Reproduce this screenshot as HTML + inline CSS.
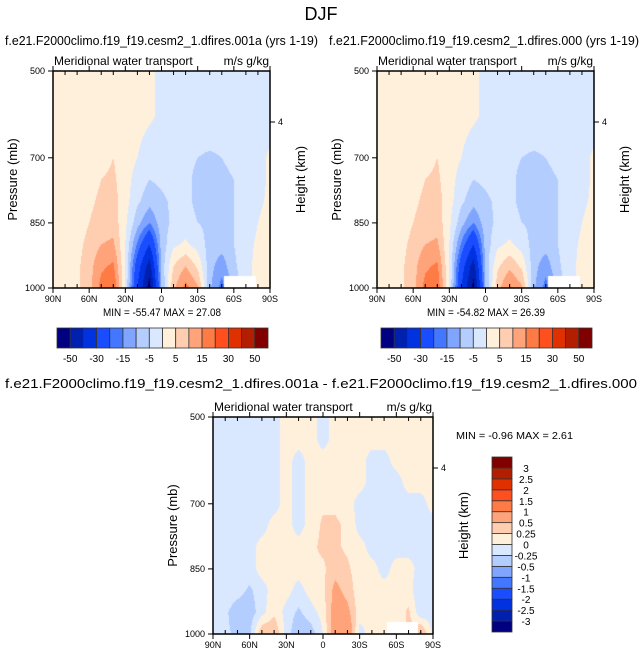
<!DOCTYPE html>
<html><head><meta charset="utf-8">
<style>
body{margin:0;background:#fff;width:643px;height:658px;overflow:hidden;font-family:"Liberation Sans",sans-serif;}
svg{position:absolute;left:0;top:0}
canvas{position:absolute}
</style></head>
<body>
<canvas id="c1"></canvas>
<canvas id="c2"></canvas>
<canvas id="c3"></canvas>
<svg id="s" width="643" height="658"></svg>
<script>
const lats=[90,80,70,60,50,40,30,20,10,0,-10,-20,-30,-40,-50,-60,-70,-80,-90];
const levels=[500,550,600,650,700,750,800,850,900,950,1000];
const latTicks=[90,60,30,0,-30,-60,-90];
const latTickLabels=["90N","60N","30N","0","30S","60S","90S"];
const pTicks=[500,700,850,1000];
const bounds1=[-50,-40,-30,-20,-15,-10,-5,0,5,10,15,20,30,40,50];
const cbLabels1=["-50","-30","-15","-5","5","15","30","50"];
const bounds3=[-3,-2.5,-2,-1.5,-1,-0.5,-0.25,0,0.25,0.5,1,1.5,2,2.5,3];
const cbLabels3=["-3","-2.5","-2","-1.5","-1","-0.5","-0.25","0","0.25","0.5","1","1.5","2","2.5","3"];
const colors=["#000080","#0020b0","#0032e0","#1a4dff","#4477ff","#7fa5ff","#b4cdff","#d9e8ff","#fff0dc","#ffcdb0","#ffa47a","#ff7b46","#ff4f1e","#e03000","#b31e00","#800000"];
const field1=[
[2,2,2,2,2,2,2,2,1,-1,-2,-2,-2,-2,-2,-2,-2,-2,-2],
[2,2,2,2,2,2,2,2,1,-1,-2,-2,-2,-2,-2,-2,-2,-2,-2],
[2,2,2,2,2,2,2,2,1,-1,-2,-2,-2,-2,-2,-2,-2,-2,-2],
[2,2,2,2,2,3,2,1,-1,-2,-3,-3,-3,-3,-3,-3,-3,-2,-1],
[2,2,2,2,3,5,2,0,-3,-4,-3,-4,-5,-6,-5,-4,-3,-2,1],
[2,2,2,3,5,6,2,-2,-5,-4,-3,-4,-6,-7,-6,-5,-3,-2,1],
[2,2,2,4,6,7,2,-4,-8,-6,-4,-4,-6,-7,-6,-5,-3,-1,1],
[2,2,2,5,7,8,1,-8,-15,-7,-4,-3,-5,-6,-6,-5,-3,0,2],
[2,2,3,7,10,11,0,-16,-30,-8,-1,1,-2,-7,-8,-5,-2,1,2],
[2,2,4,8,14,16,0,-25,-45,-8,5,10,4,-8,-13,-6,-2,2,2],
[2,2,4,8,17,20,0,-30,-55,-10,9,17,11,-9,-17,-8,-2,2,2]];
const field2=[
[2,2,2,2,2,2,2,2,1,-1,-2,-2,-2,-2,-2,-2,-2,-2,-2],
[2,2,2,2,2,2,2,2,1,-1,-2,-2,-2,-2,-2,-2,-2,-2,-2],
[2,2,2,2,2,2,2,2,1,-1,-2,-2,-2,-2,-2,-2,-2,-2,-2],
[2,2,2,2,2,3,2,1,-1,-2,-3,-3,-3,-3,-3,-3,-3,-2,-1],
[2,2,2,2,3,5,2,0,-3,-4,-3,-4,-5,-6,-5,-4,-3,-2,1],
[2,2,2,3,5,6,2,-2,-5,-4,-3,-4,-6,-7,-6,-5,-3,-2,1],
[2,2,2,4,6,7,2,-4,-8,-6,-4,-4,-6,-7,-6,-5,-3,-1,1],
[2,2,2,5,7,8,1,-8,-15,-7,-4,-3,-5,-6,-6,-5,-3,0,2],
[2,2,3,7,10,11,0,-16,-30,-8,-1,1,-2,-7,-8,-5,-2,1,2],
[2,2,4,8,14,16,0,-25,-45,-8,4,9,4,-8,-13,-6,-2,2,2],
[2,2,4,8,17,19,0,-30,-54,-10,8,16,11,-9,-17,-8,-2,2,2]];
const field3=[
[-.1,-.1,-.1,-.1,-.1,-.1,.1,.1,.1,-.1,.1,.1,.1,.1,.1,.1,.1,.1,.1],
[-.1,-.1,-.1,-.1,-.1,-.1,.1,.1,.1,-.1,.1,.1,.1,.1,.1,.1,.1,.1,.1],
[-.1,-.1,-.1,-.1,-.1,-.1,.1,-.1,.1,.1,.1,.1,.1,-.1,-.1,.1,.1,.1,.1],
[-.1,-.1,-.1,-.1,-.1,-.1,.1,-.1,.1,.1,.2,.1,.1,-.1,-.1,-.1,.1,.1,.1],
[-.1,-.1,-.1,-.1,-.1,-.1,.1,-.1,.1,.2,.2,.1,-.1,-.1,-.1,-.1,-.1,-.1,.1],
[-.1,-.1,-.1,-.1,-.1,.1,.1,-.1,.1,.3,.3,.2,-.1,-.1,-.1,-.1,-.1,-.1,-.1],
[-.1,-.1,-.1,-.1,.1,.1,.1,.1,.2,.3,.3,.2,.1,-.1,-.1,-.1,-.1,-.1,-.1],
[-.1,-.1,-.1,-.1,.1,.1,.1,.1,.2,.2,.4,.3,.1,.1,-.1,.1,.1,-.1,-.1],
[-.1,-.1,-.15,-.3,-.1,.1,.1,-.1,.1,.2,.6,.4,.1,.1,.1,.1,.1,-.2,-.1],
[-.1,-.2,-.4,-.4,-.1,.2,-.1,-.3,-.1,.1,.7,.6,.1,.1,.1,.1,.3,-.2,-.1],
[-.1,-.2,-.3,-.3,.5,.5,-.1,-.5,-.4,0,.8,.9,-.1,.1,.1,.1,.3,.6,-.1]];

const NS="http://www.w3.org/2000/svg";
const svg=document.getElementById('s');
function el(tag,attrs,parent){const e=document.createElementNS(NS,tag);for(const k in attrs)e.setAttribute(k,attrs[k]);(parent||svg).appendChild(e);return e;}
function txt(x,y,s,size,anchor,extra){const t=el('text',Object.assign({x:x,y:y,'font-size':size,'text-anchor':anchor||'middle','font-family':'Liberation Sans, sans-serif',fill:'#000'},extra||{}));t.textContent=s;return t;}

function colorIdx(v,b){let i=0;while(i<b.length&&v>=b[i])i++;return i;}
function hex(c){return [parseInt(c.substr(1,2),16),parseInt(c.substr(3,2),16),parseInt(c.substr(5,2),16)];}
const rgb=colors.map(hex);

function panel(cid,field,bounds,P,name){
  const W=P.x1-P.x0,H=P.y1-P.y0;
  const cv=document.getElementById(cid);cv.width=W;cv.height=H;cv.style.left=P.x0+'px';cv.style.top=P.y0+'px';
  const ctx=cv.getContext('2d');const img=ctx.createImageData(W,H);
  for(let py=0;py<H;py++){
    const p=500+500*(py+0.5)/H;
    let r=(p-levels[0])/(levels[1]-levels[0]);let r0=Math.min(Math.floor(r),levels.length-2);let fr=r-r0;
    for(let px=0;px<W;px++){
      const lat=90-180*(px+0.5)/W;
      let c=(lats[0]-lat)/(lats[0]-lats[1]);let c0=Math.min(Math.floor(c),lats.length-2);let fc=c-c0;
      const v=(field[r0][c0]*(1-fc)+field[r0][c0+1]*fc)*(1-fr)+(field[r0+1][c0]*(1-fc)+field[r0+1][c0+1]*fc)*fr;
      let col=rgb[colorIdx(v,bounds)];
      if(lat<-52&&lat>-78&&p>972)col=[255,255,255];
      const k=(py*W+px)*4;img.data[k]=col[0];img.data[k+1]=col[1];img.data[k+2]=col[2];img.data[k+3]=255;
    }
  }
  ctx.putImageData(img,0,0);
  const xs=lat=>P.x0+(90-lat)/180*W, ys=p=>P.y0+(p-500)/500*H;
  const g=el('g',{});
  el('rect',{x:P.x0,y:P.y0,width:W,height:H,fill:'none',stroke:'#000','stroke-width':1.5},g);
  for(let l=90;l>=-90;l-=10){const x=xs(l);const maj=(l%30===0);
    el('line',{x1:x,y1:P.y1,x2:x,y2:maj?P.y1+5:P.y1-4,stroke:'#000'},g);
    el('line',{x1:x,y1:P.y0,x2:x,y2:maj?P.y0-5:P.y0+4,stroke:'#000'},g);}
  latTicks.forEach((l,i)=>txt(xs(l),P.y1+14,latTickLabels[i],9,'middle',{}));
  pTicks.forEach(p=>{el('line',{x1:P.x0-5,y1:ys(p),x2:P.x0,y2:ys(p),stroke:'#000'},g);txt(P.x0-8,ys(p)+3,String(p),9,'end',{});});
  el('line',{x1:P.x1,y1:P.y0+51,x2:P.x1+5,y2:P.y0+51,stroke:'#000'},g);
  txt(P.x1+8,P.y0+54,'4',9,'start',{});
  txt(P.x0-36,(P.y0+P.y1)/2,'Pressure (mb)',13,'middle',{transform:`rotate(-90 ${P.x0-36} ${(P.y0+P.y1)/2})`});
  txt(P.x1+35,(P.y0+P.y1)/2,'Height (km)',13,'middle',{transform:`rotate(-90 ${P.x1+35} ${(P.y0+P.y1)/2})`});
  txt(P.x0+1,P.y0-6,'Meridional water transport',12,'start',{});
  txt(P.x1-1,P.y0-6,'m/s g/kg',12,'end',{});
}
const P1={x0:53,x1:270,y0:71,y1:288},P2={x0:377,x1:594,y0:71,y1:288},P3={x0:213,x1:433,y0:417,y1:634};
panel('c1',field1,bounds1,P1,'left');
panel('c2',field2,bounds1,P2,'right');
panel('c3',field3,bounds3,P3,'diff');

txt(321,20,'DJF',18,'middle',{});
txt(5,45,'f.e21.F2000climo.f19_f19.cesm2_1.dfires.001a (yrs 1-19)',12.5,'start',{textLength:313,lengthAdjust:'spacingAndGlyphs'});
txt(329,45,'f.e21.F2000climo.f19_f19.cesm2_1.dfires.000 (yrs 1-19)',12.5,'start',{textLength:310,lengthAdjust:'spacingAndGlyphs'});
txt(5,388,'f.e21.F2000climo.f19_f19.cesm2_1.dfires.001a - f.e21.F2000climo.f19_f19.cesm2_1.dfires.000',12.5,'start',{textLength:632,lengthAdjust:'spacingAndGlyphs'});
txt(103,316,'MIN = -55.47  MAX =  27.08',11,'start',{textLength:118,lengthAdjust:'spacingAndGlyphs'});
txt(427,316,'MIN = -54.82  MAX =  26.39',11,'start',{textLength:118,lengthAdjust:'spacingAndGlyphs'});
txt(456,439,'MIN =  -0.96  MAX =   2.61',10.5,'start',{textLength:117,lengthAdjust:'spacingAndGlyphs'});

function hbar(x0,x1,y0,y1,name){const g=el('g',{});
  const w=(x1-x0)/colors.length;
  colors.forEach((c,i)=>el('rect',{x:x0+i*w,y:y0,width:w,height:y1-y0,fill:c,stroke:'#333','stroke-width':0.8},g));
  cbLabels1.forEach((s,i)=>txt(x0+w*(1+2*i),y1+14,s,10,'middle',{}));}
hbar(57,268,328,348,'colorbar-left');
hbar(381,592,328,348,'colorbar-right');
(function(){const x0=492,x1=512,y0=457,y1=632;const g=el('g',{});
  const h=(y1-y0)/colors.length;
  colors.forEach((c,i)=>el('rect',{x:x0,y:y1-(i+1)*h,width:x1-x0,height:h,fill:c,stroke:'#333','stroke-width':0.8},g));
  cbLabels3.forEach((s,i)=>txt(526,y1-(i+1)*h+4,s,10,'middle',{}));})();
</script>
</body></html>
